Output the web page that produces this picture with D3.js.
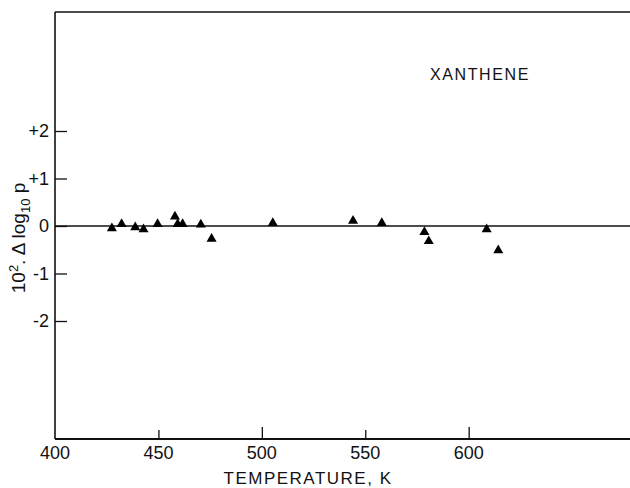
<!DOCTYPE html>
<html>
<head>
<meta charset="utf-8">
<script src="https://cdn.jsdelivr.net/npm/d3@7/dist/d3.min.js"></script>
<style>
  html, body { margin: 0; padding: 0; background: #fff; }
  svg { display: block; }
  text { font-family: "Liberation Sans", "DejaVu Sans", sans-serif; fill: #111; }
</style>
</head>
<body>
<svg id="chart" width="630" height="488"></svg>
<script>
// Data (temperature in K, 10^2 * delta log10 p)
const temperature = [427.5, 432.2, 438.8, 442.8, 449.6, 458.0, 459.3, 461.7, 470.5, 475.7, 505.3, 544.1, 558.0, 578.6, 580.7, 608.7, 614.3];
const deviation   = [-0.05, 0.04, -0.03, -0.07, 0.04, 0.20, 0.04, 0.04, 0.03, -0.27, 0.06, 0.11, 0.06, -0.13, -0.32, -0.07, -0.51];
const xTicks = [400, 450, 500, 550, 600];
const xTickLabels = ["400", "450", "500", "550", "600"];
const yTicks = [2, 1, 0, -1, -2];
const yTickLabels = ["+2", "+1", "0", "-1", "-2"];

const svg = d3.select("#chart");
const mLeft = 55, mRight = 630, mTop = 12, mBottom = 439;

const x = d3.scaleLinear().domain([400, 678]).range([mLeft, mRight]);
const y = d3.scaleLinear().domain([0, 1]).range([226, 178.5]);

// frame: top, left, bottom
svg.append("line").attr("x1", mLeft).attr("x2", mRight).attr("y1", mTop).attr("y2", mTop)
  .attr("stroke", "#111").attr("stroke-width", 1.6);
svg.append("line").attr("x1", mLeft).attr("x2", mLeft).attr("y1", mTop).attr("y2", mBottom)
  .attr("stroke", "#111").attr("stroke-width", 1.6);
svg.append("line").attr("x1", mLeft).attr("x2", mRight).attr("y1", mBottom).attr("y2", mBottom)
  .attr("stroke", "#111").attr("stroke-width", 1.8);

// x axis ticks (inward)
const xAxis = d3.axisBottom(x).tickValues(xTicks).tickSize(-12).tickFormat(() => "");
const gx = svg.append("g").attr("transform", `translate(0,${mBottom})`).call(xAxis);
gx.select(".domain").remove();
gx.selectAll(".tick line").attr("stroke", "#111").attr("stroke-width", 1.3)
  .attr("y2", d => (d === 450 || d === 550) ? -9 : -12);
gx.selectAll(".tick").filter(d => d === 400).select("line").remove();

svg.append("g").selectAll("text").data(xTicks).join("text")
  .attr("x", d => x(d)).attr("y", 459)
  .attr("text-anchor", "middle").attr("font-size", 18)
  .text((d, i) => xTickLabels[i]);

// y axis ticks (inward)
const yAxis = d3.axisLeft(y).tickValues(yTicks).tickSize(-12).tickFormat(() => "");
const gy = svg.append("g").attr("transform", `translate(${mLeft},0)`).call(yAxis);
gy.select(".domain").remove();
gy.selectAll(".tick line").attr("stroke", "#111").attr("stroke-width", 1.3);

svg.append("g").selectAll("text").data(yTicks).join("text")
  .attr("x", 49).attr("y", d => y(d) + 6)
  .attr("text-anchor", "end").attr("font-size", 18)
  .text((d, i) => yTickLabels[i]);

// zero line
svg.append("line").attr("x1", mLeft).attr("x2", mRight).attr("y1", y(0)).attr("y2", y(0))
  .attr("stroke", "#111").attr("stroke-width", 1.6);

// points (filled triangles)
const tri = d3.symbol().type(d3.symbolTriangle).size(44);
svg.append("g").selectAll("path").data(temperature).join("path")
  .attr("d", tri)
  .attr("transform", (d, i) => `translate(${x(d)},${y(deviation[i])})`)
  .attr("fill", "#000");

// title
svg.append("text").attr("x", 430).attr("y", 80).attr("font-size", 16)
  .attr("letter-spacing", 1.6).text("XANTHENE");

// x label
svg.append("text").attr("x", 308).attr("y", 484).attr("text-anchor", "middle")
  .attr("font-size", 17).attr("letter-spacing", 1.5).text("TEMPERATURE, K");

// y label
const yl = svg.append("text").attr("transform", "translate(25,238) rotate(-90)")
  .attr("text-anchor", "middle").attr("font-size", 19);
yl.append("tspan").text("10");
yl.append("tspan").attr("dy", -7).attr("font-size", 13).text("2");
yl.append("tspan").attr("dy", 7).text(". Δ log");
yl.append("tspan").attr("dy", 5).attr("font-size", 13).text("10");
yl.append("tspan").attr("dy", -5).text(" p");
</script>
</body>
</html>
